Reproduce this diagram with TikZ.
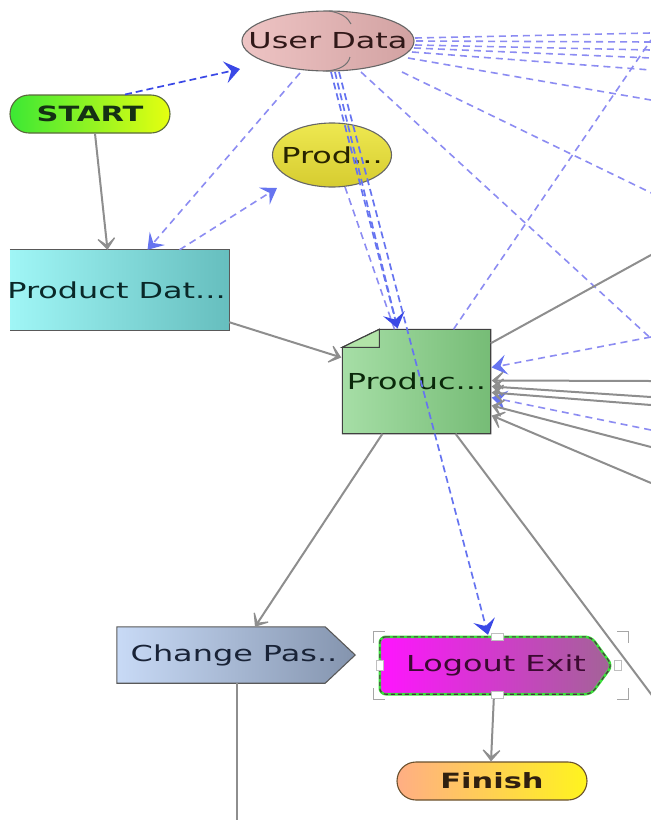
\documentclass[tikz,border=0pt]{standalone}
\usepackage{fontspec}
\setmainfont[FakeStretch=1.45]{DejaVu Sans}
\usetikzlibrary{shapes.geometric,arrows.meta,calc,backgrounds}
\definecolor{gc}{HTML}{8E8E8E}
\definecolor{lb}{HTML}{8C8CF2}
\definecolor{db}{HTML}{3A48E6}
\definecolor{mb}{HTML}{6674F0}
\newcommand\fsz[1]{\fontsize{#1}{#1}\selectfont}
\begin{document}
\begin{tikzpicture}[x=1pt,y=-1pt,
  gl/.style={draw=gc,line width=2pt},
  ga/.style={gl,-{Stealth[length=16pt,width=26pt,inset=11pt]}},
  ld/.style={draw=lb,line width=1.6pt,dash pattern=on 7pt off 5pt},
  dd/.style={draw=db,line width=1.7pt,dash pattern=on 7pt off 4pt},
  la/.style={ld,-{Stealth[length=15pt,width=20pt,inset=6pt,color=mb]}},
  da/.style={dd,-{Stealth[length=15pt,width=22pt,inset=6pt,color=db]}},
  txt/.style={font=\fsz{22},inner sep=0pt},
  btxt/.style={font=\fsz{21}\bfseries,inner sep=0pt},
  sel/.style={draw=black!35,line width=0.8pt},
  hnd/.style={fill=white,draw=black!25,line width=0.5pt},
]
\useasboundingbox (0,0) rectangle (651,820);
\clip (0,0) rectangle (651,820);

% ---------------- nodes ----------------
\node[ellipse,minimum width=172pt,minimum height=60pt,draw=black!60,line width=1.1pt,
      left color={rgb,255:red,238;green,196;blue,196},right color={rgb,255:red,210;green,162;blue,162},
      label={[txt,text={rgb,255:red,48;green,24;blue,24}]center:User Data}] (ud) at (328,41) {};
\draw[black!55,line width=1pt] ($(ud)+(1,-30)$) .. controls ($(ud)+(14,-28)$) and ($(ud)+(20,-23)$) .. ($(ud)+(23,-17)$);
\draw[black!55,line width=1pt] ($(ud)+(22,16)$) .. controls ($(ud)+(20,24)$) and ($(ud)+(12,29)$) .. ($(ud)+(-2,30)$);

\node[rounded corners=19pt,minimum width=160pt,minimum height=38pt,draw={rgb,255:red,90;green,105;blue,60},line width=1.1pt,
      left color={rgb,255:red,60;green,232;blue,52},right color={rgb,255:red,230;green,255;blue,16},
      label={[btxt,text={rgb,255:red,20;green,48;blue,20}]center:START}] (start) at (90,114) {};

\node[ellipse,minimum width=119pt,minimum height=64pt,draw=black!60,line width=1.1pt,
      top color={rgb,255:red,238;green,232;blue,80},bottom color={rgb,255:red,214;green,204;blue,48},
      label={[txt,text={rgb,255:red,40;green,36;blue,0}]center:Prod...}] (prod) at (332,155) {};

\node[minimum width=219pt,minimum height=80pt,inner sep=0pt,
      shading=axis,shading angle=55,left color={rgb,255:red,160;green,246;blue,246},right color={rgb,255:red,102;green,190;blue,190}] (pdat) at (119.5,290) {};
\draw[black!65,line width=1.1pt] (pdat.north west) -- (pdat.north east) -- (pdat.south east) -- (pdat.south west);
\node[txt,text={rgb,255:red,10;green,40;blue,40}] at ($(pdat)+(-3,0)$) {Product Dat...};

\node[minimum width=148pt,minimum height=104pt,inner sep=0pt] (produc) at (416.5,381.5) {};
\node[minimum width=238pt,minimum height=56pt,inner sep=0pt] (chg) at (236,655) {};
\node[minimum width=232pt,minimum height=57pt,inner sep=0pt] (logout) at (496,665.5) {};

\begin{scope}[on background layer]
  \path[draw=black!75,line width=1.1pt,left color={rgb,255:red,166;green,222;blue,166},right color={rgb,255:red,118;green,188;blue,118}]
     ($(produc.north west)+(0,18)$) -- ($(produc.north west)+(37,0)$) -- (produc.north east) -- (produc.south east) -- (produc.south west) -- cycle;
  \path[draw=black!75,line width=1.1pt,fill={rgb,255:red,178;green,228;blue,168}]
     ($(produc.north west)+(0,18)$) -- ($(produc.north west)+(37,18)$) -- ($(produc.north west)+(37,0)$) -- cycle;
  \path[draw=black!65,line width=1.1pt,left color={rgb,255:red,200;green,218;blue,246},right color={rgb,255:red,132;green,148;blue,174}]
     (chg.north west) -- ($(chg.north east)+(-30,0)$) -- (chg.east) -- ($(chg.south east)+(-30,0)$) -- (chg.south west) -- cycle;
  \path[rounded corners=6pt,draw={rgb,255:red,60;green,225;blue,60},line width=2.6pt,left color={rgb,255:red,255;green,20;blue,255},right color={rgb,255:red,162;green,100;blue,150}]
     (logout.north west) -- ($(logout.north east)+(-21,0)$) -- (logout.east) -- ($(logout.south east)+(-21,0)$) -- (logout.south west) -- cycle;
  \path[rounded corners=6pt,draw={rgb,255:red,80;green,40;blue,70},line width=1.1pt,dash pattern=on 4pt off 3pt]
     (logout.north west) -- ($(logout.north east)+(-21,0)$) -- (logout.east) -- ($(logout.south east)+(-21,0)$) -- (logout.south west) -- cycle;
\end{scope}
\node[txt,text={rgb,255:red,10;green,40;blue,10}] at (produc) {Produc...};
\node[txt,text={rgb,255:red,25;green,35;blue,55}] at ($(chg)+(-2,0)$) {Change Pas..};
\node[txt,text={rgb,255:red,60;green,10;blue,50}] at ($(logout)+(0,0)$) {Logout Exit};

\node[rounded corners=19pt,minimum width=190pt,minimum height=38pt,draw={rgb,255:red,105;green,80;blue,45},line width=1.1pt,
      left color={rgb,255:red,255;green,174;blue,132},right color={rgb,255:red,255;green,244;blue,30},
      label={[btxt,text={rgb,255:red,48;green,32;blue,16}]center:Finish}] (finish) at (492,781) {};

% ---------------- off-canvas ends ----------------
\coordinate (r1) at (651,33);
\coordinate (r2) at (651,42);
\coordinate (r3) at (651,50);
\coordinate (r4) at (651,58);
\coordinate (r5) at (651,70);
\coordinate (r6) at (651,100);
\coordinate (r7) at (670,202);
\coordinate (r8) at (670,356);
\coordinate (r9) at (651,40);
\coordinate (s1) at (651,337);
\coordinate (s2) at (651,430);
\coordinate (g4) at (663,710);
\coordinate (g5) at (237,830);
\coordinate (g7) at (680,239);
\coordinate (h1) at (651,381);
\coordinate (h2) at (651,397);
\coordinate (h3) at (651,405);
\coordinate (h4) at (651,447);
\coordinate (h5) at (651,483);

% ---------------- light dashed lines ----------------
\draw[ld] ($(ud)+(87,-3)$) -- (r1);
\draw[ld] ($(ud)+(88,0)$) -- (r2);
\draw[ld] ($(ud)+(87,4)$) -- (r3);
\draw[ld] ($(ud)+(86,7)$) -- (r4);
\draw[ld] ($(ud)+(84,11)$) -- (r5);
\draw[ld] ($(ud)+(80,17)$) -- (r6);
\draw[ld] ($(ud)+(74,31)$) -- (r7);
\draw[ld] ($(ud)+(33,31)$) -- (r8);
\draw[ld] ($(produc.north)+(37,0)$) -- (r9);
\draw[la] ($(ud)+(-28,32)$) -- ($(pdat.north)+(28,0)$);
\draw[la] ($(pdat.north)+(60,0)$) -- ($(prod)+(-55,33)$);
\draw[ld] ($(prod)+(13,32)$) -- ($(produc.north)+(-22,0)$);
\draw[la] (s1) -- ($(produc.east)+(1,-14)$);
\draw[la] (s2) -- ($(produc.east)+(1,16)$);

% ---------------- darker dashed lines ----------------
\draw[da] ($(start.north)+(35,0)$) -- ($(ud)+(-88,28)$);
\draw[dd,draw=mb] ($(ud)+(3,31)$) -- ($(produc.north)+(-19,-1)$);
\draw[da,draw=mb] ($(ud)+(7,31)$) -- ($(produc.north)+(-19,-1)$);
\draw[da,draw=mb] ($(ud)+(11,31)$) -- ($(logout.north)+(-8,-2)$);

% ---------------- grey lines ----------------
\draw[ga] ($(start.south)+(5,0)$) -- ($(pdat.north)+(-12,0)$);
\draw[ga] ($(pdat.south east)+(0,-8)$) -- ($(produc.west)+(-1,-24)$);
\draw[ga] ($(produc.south)+(-34,0)$) -- ($(chg.north)+(19,0)$);
\draw[gl] ($(produc.south)+(39,0)$) -- (g4);
\draw[gl] ($(chg.south)+(1,0)$) -- (g5);
\draw[ga] ($(logout.south)+(-2,0)$) -- ($(finish.north)+(-1,0)$);
\draw[gl] ($(produc.north east)+(0,14)$) -- (g7);
\draw[ga] (h1) -- ($(produc.east)+(1,-1)$);
\draw[ga] (h2) -- ($(produc.east)+(1,5)$);
\draw[ga] (h3) -- ($(produc.east)+(1,11)$);
\draw[ga] (h4) -- ($(produc.east)+(1,24)$);
\draw[ga] (h5) -- ($(produc.east)+(1,34)$);

% ---------------- selection handles ----------------
\draw[sel] ($(logout.north west)+(-6,6)$) -- ++(0,-11) -- ++(11,0);
\draw[sel] ($(logout.north east)+(16,6)$) -- ++(0,-11) -- ++(-11,0);
\draw[sel] ($(logout.south west)+(-6,-6)$) -- ++(0,11) -- ++(11,0);
\draw[sel] ($(logout.south east)+(16,-6)$) -- ++(0,11) -- ++(-11,0);
\path[hnd] ($(logout.north)+(-5,-4)$) rectangle ++(12,7);
\path[hnd] ($(logout.south)+(-5,-3)$) rectangle ++(12,7);
\path[hnd] ($(logout.west)+(-4,-5)$) rectangle ++(7,10);
\path[hnd] ($(logout.east)+(2,-5)$) rectangle ++(7,10);
\end{tikzpicture}
\end{document}
